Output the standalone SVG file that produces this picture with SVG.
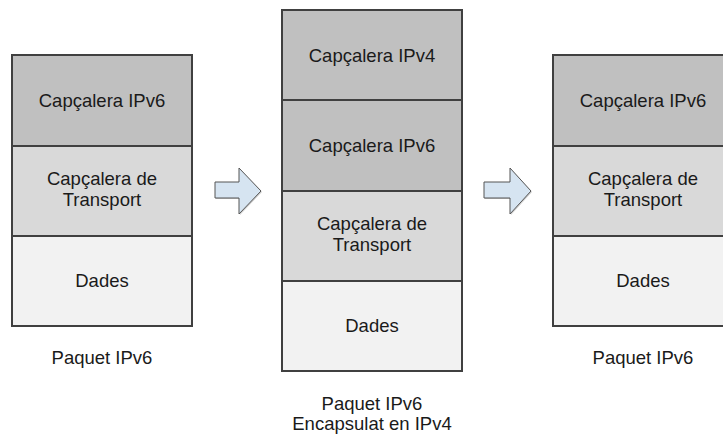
<svg xmlns="http://www.w3.org/2000/svg" width="723" height="437" viewBox="0 0 723 437">
<style>
.box{stroke:#404040;stroke-width:2}
.h{fill:#C0C0C0}
.t{fill:#D9D9D9}
.d{fill:#F2F2F2}
text{font-family:"Liberation Sans",Arial,sans-serif;font-size:18.5px;fill:#1a1a1a;text-anchor:middle}
.arrow{fill:#D6E4F1;stroke:#555;stroke-width:1}
.shadow{fill:#cfcfcf}
</style>
<rect width="723" height="437" fill="#fff"/>
<g id="packet-left">
<rect class="box h" x="12" y="55" width="180" height="91"/>
<rect class="box t" x="12" y="146" width="180" height="90"/>
<rect class="box d" x="12" y="236" width="180" height="90"/>
<text x="102" y="107">Capçalera IPv6</text>
<text x="102" y="185">Capçalera de</text>
<text x="102" y="206">Transport</text>
<text x="102" y="287">Dades</text>
<text x="102" y="364">Paquet IPv6</text>
</g>
<g id="packet-middle">
<rect class="box h" x="282" y="10" width="180" height="90"/>
<rect class="box h" x="282" y="100" width="180" height="91"/>
<rect class="box t" x="282" y="191" width="180" height="90"/>
<rect class="box d" x="282" y="281" width="180" height="90"/>
<text x="372" y="62">Capçalera IPv4</text>
<text x="372" y="152">Capçalera IPv6</text>
<text x="372" y="230">Capçalera de</text>
<text x="372" y="251">Transport</text>
<text x="372" y="332">Dades</text>
<text x="372" y="410">Paquet IPv6</text>
<text x="372" y="430">Encapsulat en IPv4</text>
</g>
<g id="packet-right">
<rect class="box h" x="553" y="55" width="180" height="91"/>
<rect class="box t" x="553" y="146" width="180" height="90"/>
<rect class="box d" x="553" y="236" width="180" height="90"/>
<text x="643" y="107">Capçalera IPv6</text>
<text x="643" y="185">Capçalera de</text>
<text x="643" y="206">Transport</text>
<text x="643" y="287">Dades</text>
<text x="643" y="364">Paquet IPv6</text>
</g>
<g id="connectors">
<polygon class="shadow" points="216,183 240,183 240,169 262,192 240,215 240,199 216,199"/>
<polygon class="arrow" points="215,182 239,182 239,168 261,191 239,214 239,198 215,198"/>
<polygon class="shadow" points="485,183 511,183 511,169 532,192 511,215 511,199 485,199"/>
<polygon class="arrow" points="484,182 510,182 510,168 531,191 510,214 510,198 484,198"/>
</g>
</svg>
